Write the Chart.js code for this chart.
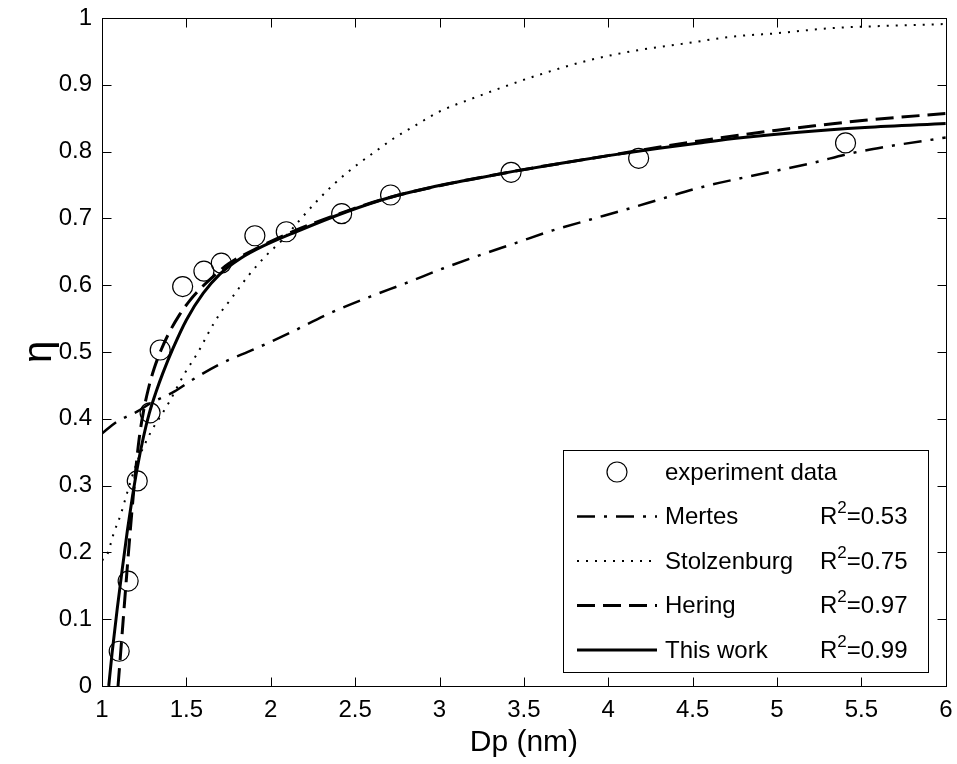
<!DOCTYPE html>
<html>
<head>
<meta charset="utf-8">
<title>Collection efficiency vs Dp</title>
<script src="https://cdn.jsdelivr.net/npm/chart.js@4.4.1/dist/chart.umd.min.js"></script>
<style>
  body { margin: 0; background: #fff; }
  canvas { display: block; }
</style>
</head>
<body>
<canvas id="chart" width="957" height="764"></canvas>
<script>
// measured points
var expDp  = [1.102, 1.155, 1.209, 1.285, 1.345, 1.478, 1.604, 1.707, 1.906, 2.092, 2.42, 2.71, 3.424, 4.18, 5.406];
var expEta = [0.052, 0.157, 0.307, 0.409, 0.503, 0.598, 0.621, 0.633, 0.674, 0.680, 0.707, 0.735, 0.769, 0.790, 0.813];

// Mertes model
var mertesDp  = [1.0, 1.09, 1.21, 1.30, 1.43, 1.52, 1.70, 1.90, 2.10, 2.35, 2.59, 2.80, 3.02, 3.24, 3.45, 3.67, 3.89, 4.10, 4.30, 4.54, 4.97, 5.21, 5.43, 5.64, 6.0];
var mertesEta = [0.378, 0.396, 0.411, 0.425, 0.441, 0.456, 0.482, 0.504, 0.527, 0.558, 0.583, 0.603, 0.625, 0.645, 0.663, 0.682, 0.698, 0.713, 0.728, 0.746, 0.770, 0.783, 0.797, 0.807, 0.821];

// Stolzenburg model
var stolzDp  = [1.0, 1.03, 1.07, 1.11, 1.15, 1.20, 1.25, 1.30, 1.35, 1.40, 1.49, 1.57, 1.64, 1.70, 1.76, 1.87, 1.975, 2.07, 2.17, 2.27, 2.39, 2.51, 2.63, 2.73, 2.85, 3.0, 3.2, 3.36, 3.59, 3.89, 4.18, 4.46, 4.73, 4.99, 5.33, 5.62, 6.0];
var stolzEta = [0.188, 0.196, 0.229, 0.256, 0.29, 0.33, 0.36, 0.385, 0.405, 0.426, 0.468, 0.50, 0.533, 0.558, 0.578, 0.615, 0.645, 0.668, 0.697, 0.725, 0.755, 0.780, 0.802, 0.820, 0.838, 0.860, 0.880, 0.895, 0.915, 0.937, 0.952, 0.962, 0.972, 0.977, 0.985, 0.988, 0.991];

// Hering model
var heringDp  = [1.095, 1.11, 1.125, 1.14, 1.155, 1.17, 1.185, 1.20, 1.22, 1.245, 1.275, 1.31, 1.35, 1.40, 1.46, 1.52, 1.58, 1.65, 1.75, 1.90, 2.10, 2.45, 2.70, 3.00, 3.43, 4.00, 4.54, 5.00, 5.27, 5.52, 6.00];
var heringEta = [0, 0.048, 0.097, 0.146, 0.194, 0.24, 0.284, 0.324, 0.37, 0.41, 0.445, 0.476, 0.503, 0.53, 0.556, 0.577, 0.594, 0.611, 0.632, 0.653, 0.677, 0.711, 0.731, 0.749, 0.770, 0.794, 0.816, 0.832, 0.840, 0.847, 0.857];

// this work
var fitDp  = [1.04, 1.06, 1.09, 1.12, 1.15, 1.18, 1.21, 1.245, 1.28, 1.32, 1.36, 1.42, 1.50, 1.60, 1.70, 1.82, 1.95, 2.15, 2.45, 2.70, 2.94, 3.16, 3.43, 3.73, 4.00, 4.30, 4.54, 4.80, 5.13, 5.52, 6.00];
var fitEta = [0, 0.05, 0.115, 0.175, 0.232, 0.283, 0.328, 0.372, 0.408, 0.44, 0.468, 0.505, 0.548, 0.588, 0.617, 0.640, 0.658, 0.680, 0.710, 0.731, 0.746, 0.757, 0.770, 0.783, 0.794, 0.805, 0.813, 0.821, 0.829, 0.836, 0.842];

var legendLabels = ['experiment data', 'Mertes', 'Stolzenburg', 'Hering', 'This work'];
var rSquared     = [null, '0.53', '0.75', '0.97', '0.99'];

var FONT = '"Liberation Sans", Arial, sans-serif';

function pts(xs, ys) {
  return xs.map(function (x, i) { return { x: x, y: ys[i] }; });
}

function curve(label, xs, ys, dash, width) {
  return {
    label: label,
    data: pts(xs, ys),
    borderColor: '#000',
    borderWidth: width,
    borderDash: dash,
    pointRadius: 0,
    fill: false,
    cubicInterpolationMode: 'monotone'
  };
}

var datasets = [
  {
    label: legendLabels[0],
    data: pts(expDp, expEta),
    showLine: false,
    pointStyle: 'circle',
    pointRadius: 10,
    pointBorderWidth: 1.2,
    pointBorderColor: '#000',
    pointBackgroundColor: 'rgba(0,0,0,0)',
    order: 5
  },
  curve(legendLabels[1], mertesDp, mertesEta, [18, 9, 3, 9], 2.5),
  curve(legendLabels[2], stolzDp, stolzEta, [2, 7], 2),
  curve(legendLabels[3], heringDp, heringEta, [18, 8], 3),
  curve(legendLabels[4], fitDp, fitEta, [], 3)
];

// box with inward ticks on all four sides
var axesBox = {
  id: 'axesBox',
  afterDraw: function (chart) {
    var ctx = chart.ctx, a = chart.chartArea;
    var xs = chart.scales.x, ys = chart.scales.y;
    var L = Math.round(a.left) + 0.5, R = Math.round(a.right) + 0.5;
    var T = Math.round(a.top) + 0.5, B = Math.round(a.bottom) + 0.5;
    var tl = 9;
    ctx.save();
    ctx.strokeStyle = '#000';
    ctx.lineWidth = 1;
    ctx.setLineDash([]);
    ctx.strokeRect(L, T, R - L, B - T);
    ctx.beginPath();
    xs.ticks.forEach(function (t) {
      var px = Math.round(xs.getPixelForValue(t.value)) + 0.5;
      ctx.moveTo(px, B); ctx.lineTo(px, B - tl);
      ctx.moveTo(px, T); ctx.lineTo(px, T + tl);
    });
    ys.ticks.forEach(function (t) {
      var py = Math.round(ys.getPixelForValue(t.value)) + 0.5;
      ctx.moveTo(L, py); ctx.lineTo(L + tl, py);
      ctx.moveTo(R, py); ctx.lineTo(R - tl, py);
    });
    ctx.stroke();
    ctx.restore();
  }
};

// legend with R² column, lower right inside the axes
var legendBox = {
  id: 'legendBox',
  afterDraw: function (chart) {
    var ctx = chart.ctx, a = chart.chartArea;
    var w = 365, h = 222;
    var right = Math.round(a.right) - 18, bottom = Math.round(a.bottom) - 14;
    var left = right - w, top = bottom - h;
    ctx.save();
    ctx.fillStyle = '#fff';
    ctx.fillRect(left, top, w, h);
    ctx.strokeStyle = '#000';
    ctx.lineWidth = 1;
    ctx.setLineDash([]);
    ctx.strokeRect(left + 0.5, top + 0.5, w, h);

    var rowH = 44.5;
    chart.data.datasets.forEach(function (ds, i) {
      var cy = top + 22 + i * rowH;
      var x0 = left + 14, x1 = left + 94;
      ctx.strokeStyle = '#000';
      if (ds.showLine === false) {
        ctx.lineWidth = ds.pointBorderWidth;
        ctx.setLineDash([]);
        ctx.beginPath();
        ctx.arc((x0 + x1) / 2, cy, ds.pointRadius, 0, Math.PI * 2);
        ctx.stroke();
      } else {
        ctx.lineWidth = ds.borderWidth;
        ctx.setLineDash(ds.borderDash);
        ctx.beginPath();
        ctx.moveTo(x0, cy);
        ctx.lineTo(x1, cy);
        ctx.stroke();
      }
      ctx.setLineDash([]);
      ctx.fillStyle = '#000';
      ctx.textBaseline = 'middle';
      ctx.textAlign = 'left';
      ctx.font = '24px ' + FONT;
      ctx.fillText(legendLabels[i], left + 102, cy + 1);
      if (rSquared[i]) {
        var rx = left + 257;
        ctx.fillText('R', rx, cy + 1);
        var rw = ctx.measureText('R').width;
        ctx.font = '17px ' + FONT;
        ctx.fillText('2', rx + rw, cy - 8);
        var sw = ctx.measureText('2').width;
        ctx.font = '24px ' + FONT;
        ctx.fillText('=' + rSquared[i], rx + rw + sw, cy + 1);
      }
    });
    ctx.restore();
  }
};

new Chart(document.getElementById('chart'), {
  type: 'line',
  data: { datasets: datasets },
  options: {
    responsive: false,
    animation: false,
    devicePixelRatio: 1,
    layout: { padding: { top: 18, right: 10, left: 0, bottom: 0 } },
    plugins: {
      legend: { display: false },
      tooltip: { enabled: false }
    },
    scales: {
      x: {
        type: 'linear',
        min: 1,
        max: 6,
        grid: { display: false, drawTicks: false },
        border: { display: false },
        ticks: {
          stepSize: 0.5,
          color: '#000',
          padding: 10,
          maxRotation: 0,
          font: { family: FONT, size: 24 },
          callback: function (v) { return String(Math.round(v * 10) / 10); }
        },
        title: {
          display: true,
          text: 'Dp (nm)',
          color: '#000',
          font: { family: FONT, size: 30 },
          padding: { top: 0, bottom: 3 }
        },
        afterFit: function (s) {
          s.height = 78;
          s.paddingLeft = 0;
          s.paddingRight = 0;
        }
      },
      y: {
        type: 'linear',
        min: 0,
        max: 1,
        grid: { display: false, drawTicks: false },
        border: { display: false },
        ticks: {
          stepSize: 0.1,
          color: '#000',
          padding: 10,
          font: { family: FONT, size: 24 },
          callback: function (v) { return String(Math.round(v * 10) / 10); }
        },
        title: {
          display: true,
          text: 'η',
          color: '#000',
          font: { family: FONT, size: 40 },
          padding: { top: 16, bottom: 0 }
        },
        afterFit: function (s) {
          s.width = 102;
          s.paddingTop = 0;
          s.paddingBottom = 0;
        }
      }
    }
  },
  plugins: [axesBox, legendBox]
});
</script>
</body>
</html>
